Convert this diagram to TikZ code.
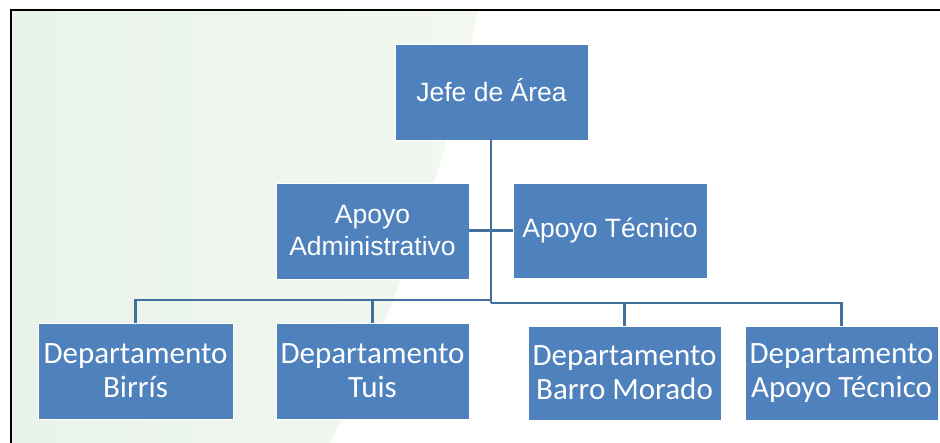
\documentclass[tikz,border=0pt]{standalone}
\usepackage{fontspec}
\setmainfont{Liberation Sans}
\newfontfamily\calibri{Carlito}
\definecolor{boxblue}{HTML}{4F81BD}
\definecolor{linkblue}{HTML}{41709E}
\definecolor{bggreen}{HTML}{E9F3EA}
\definecolor{bgpale}{HTML}{F2F8EF}
\tikzset{
  box/.style={rectangle, fill=boxblue, draw=white, line width=0.8pt, text=white, align=center, inner sep=0pt, outer sep=0pt},
  topbox/.style={box, font=\fontsize{26.5}{32}\selectfont},
  deptbox/.style={box, font=\calibri\fontsize{31}{34}\selectfont},
  conn/.style={draw=linkblue, line width=2.4pt}
}
\begin{document}
\begin{tikzpicture}[x=1pt,y=-1pt]
\useasboundingbox (0,0) rectangle (940,443);
% background tint
\shade[left color=bggreen, right color=bgpale] (11,10) -- (478,10) .. controls (455,120) and (420,260) .. (330,443) -- (11,443) -- cycle;
% frame
\draw[black, line width=1.8pt] (11,443) -- (11,10) -- (940,10);
% nodes
\node[topbox, minimum width=193, minimum height=96] (jefe) at (491.5,92) {\raisebox{3pt}{Jefe de Área}};
\node[topbox, minimum width=193, minimum height=96] (admin) at (372.5,231) {Apoyo\\Administrativo};
\node[topbox, minimum width=194, minimum height=95] (tec) at (610,230.5) {Apoyo Técnico};
\node[deptbox, minimum width=195, minimum height=96] (birris) at (135.5,371) {Departamento\\Birrís};
\node[deptbox, minimum width=193, minimum height=96] (tuis) at (372.5,371) {Departamento\\Tuis};
\node[deptbox, minimum width=193, minimum height=94] (barro) at (624.5,373) {Departamento\\Barro Morado};
\node[deptbox, minimum width=193, minimum height=94] (apdept) at (841.5,373) {Departamento\\Apoyo Técnico};
% connector junctions
\coordinate (hub) at (491,300);
\coordinate (hubR) at (491,303);
% connectors
\draw[conn] (jefe.south -| hub) -- (hubR);
\draw[conn] (tec.west) -- (tec.west -| admin.east);
\draw[conn] (birris.north) |- (hub);
\draw[conn] (tuis.north) -- (tuis.north |- hub);
\draw[conn] (barro.north) |- (hubR);
\draw[conn] (apdept.north) |- (hubR);
\end{tikzpicture}
\end{document}
